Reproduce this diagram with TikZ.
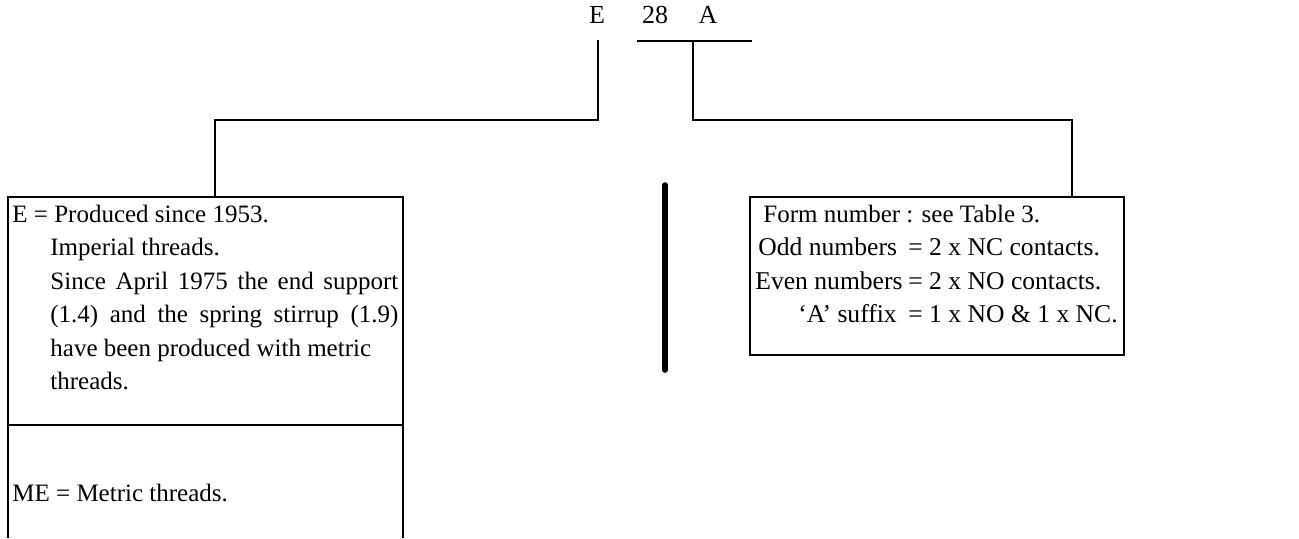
\documentclass[tikz,border=0pt]{standalone}
\usepackage{fontspec}
\setmainfont{Liberation Serif}
\begin{document}
\begin{tikzpicture}[x=0.5pt,y=-0.5pt,
  txt/.style={font=\fontsize{12.5}{16.7}\selectfont, inner sep=0pt},
  rtxt/.style={font=\fontsize{12.8}{16.7}\selectfont, inner sep=0pt},
  code/.style={font=\fontsize{13}{16}\selectfont, inner sep=0pt},
  ln/.style={line width=1pt},
  bar/.style={line width=2.8pt, line cap=round}]
\useasboundingbox (0,0) rectangle (1299,538);
% code letters
\node[code, anchor=base] (E) at (597,23) {E};
\node[code, anchor=base] (n28) at (655,23) {28};
\node[code, anchor=base] (A) at (708,23) {A};
\coordinate (ul1) at (637,41);
\coordinate (ul2) at (752,41);
\draw[ln] (ul1) -- (ul2);
% connectors
\coordinate (eb) at (598,40);
\coordinate (fb) at (693,41);
\coordinate (lj) at (215,120);
\coordinate (lt) at (215,197);
\coordinate (rj) at (1072,120);
\coordinate (rt) at (1072,197);
\draw[ln] (eb) |- (lj) -- (lt);
\draw[ln] (fb) |- (rj) -- (rt);
% left box
\draw[ln] (8,538) -- (8,197) -- (403,197) -- (403,538);
\draw[ln] (8,425) -- (403,425);
\node[txt, anchor=base west] (l1) at (12,222) {E = Produced since 1953.};
\node[txt, anchor=base west] (l2) at (50,255) {Imperial threads.};
\node[txt, anchor=base west] (l3) at (50,289) {\makebox[174pt][s]{Since April 1975 the end support}};
\node[txt, anchor=base west] (l4) at (50,322) {\makebox[174pt][s]{(1.4) and the spring stirrup (1.9)}};
\node[txt, anchor=base west] (l5) at (50,356) {have been produced with metric};
\node[txt, anchor=base west] (l6) at (50,389) {threads.};
\node[txt, anchor=base west] (me) at (12,501) {ME = Metric threads.};
% thick bar
\coordinate (bt) at (665,185);
\coordinate (bb) at (665,370);
\draw[bar] (bt) -- (bb);
% right box
\draw[ln] (750,197) rectangle (1124,355);
\node[txt, anchor=base west] (r1) at (763,222) {Form number : see Table 3.};
\node[rtxt, anchor=base west] (r2a) at (758,255) {Odd numbers};
\node[rtxt, anchor=base west] (r2b) at (908,255) {= 2 x NC contacts.};
\node[rtxt, anchor=base west] (r3a) at (755,289) {Even numbers};
\node[rtxt, anchor=base west] (r3b) at (908,289) {= 2 x NO contacts.};
\node[rtxt, anchor=base west] (r4a) at (798,322) {`A' suffix};
\node[rtxt, anchor=base west] (r4b) at (908,322) {= 1 x NO \& 1 x NC.};
\end{tikzpicture}
\end{document}
